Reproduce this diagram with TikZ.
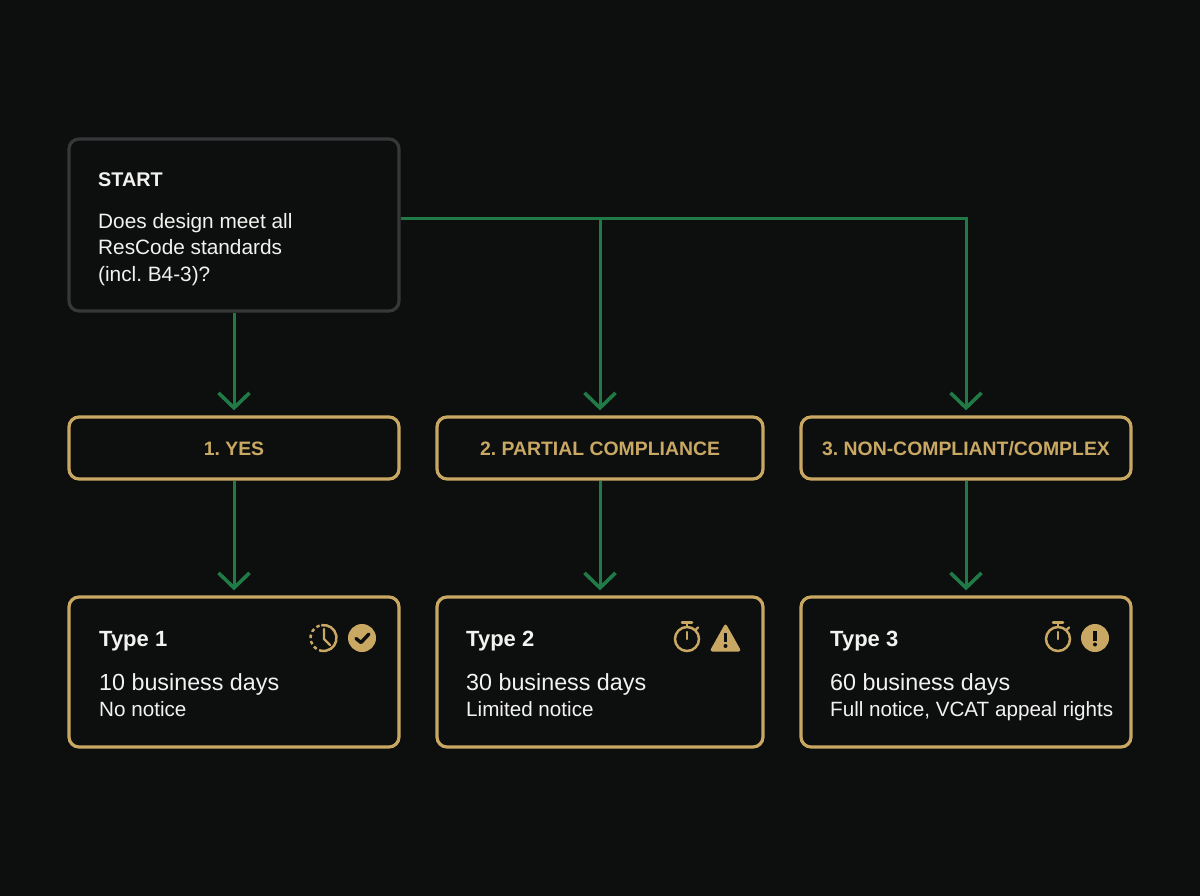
\documentclass[tikz,border=0pt]{standalone}
\usepackage{fontspec}
\setmainfont{Liberation Sans}
\frenchspacing
\usetikzlibrary{arrows.meta,calc}
\definecolor{bgc}{HTML}{0D0E0E}
\definecolor{gold}{HTML}{C9A864}
\definecolor{grn}{HTML}{1F7A45}
\definecolor{edge}{HTML}{363738}
\definecolor{wht}{HTML}{F2F2F0}
\tikzset{
 x=1pt,y=-1pt,
 box/.style={draw=gold,line width=3.2pt,rounded corners=10pt,fill=bgc,minimum height=#1,inner sep=0pt},
 startbox/.style={draw=edge,line width=3.2pt,rounded corners=10pt,fill=bgc,minimum width=330pt,minimum height=172pt,inner sep=0pt},
 conn/.style={draw=grn,line width=3pt,shorten >=5pt,-{Straight Barb[length=15pt,width=31pt,line width=3.6pt]}},
 lab/.style={text=gold,font=\fontsize{19.4}{24}\selectfont\bfseries,inner sep=0pt},
 title/.style={text=wht,font=\fontsize{22}{26}\selectfont\bfseries,inner sep=0pt,anchor=base west},
 big/.style={text=wht,font=\fontsize{23.3}{27}\selectfont,inner sep=0pt,anchor=base west},
 small/.style={text=wht,font=\fontsize{20.65}{24}\selectfont,inner sep=0pt,anchor=base west},
 quest/.style={text=wht,font=\fontsize{20.8}{24}\selectfont,inner sep=0pt,anchor=base west},
 ico/.style={draw=gold,line width=2.5pt},
 hand/.style={draw=gold,line width=2.3pt,line cap=round,line join=round},
}
\begin{document}
\begin{tikzpicture}
\path[use as bounding box,fill=bgc] (0,0) rectangle (1200,896);
\node[startbox] (start) at (234,225) {};
\node[box=62pt,minimum width=330pt] (yes) at (234,448) {};
\node[box=62pt,minimum width=326pt] (partial) at (600,448) {};
\node[box=62pt,minimum width=330pt] (non) at (966,448) {};
\node[box=150pt,minimum width=330pt] (t1) at (234,672) {};
\node[box=150pt,minimum width=326pt] (t2) at (600,672) {};
\node[box=150pt,minimum width=330pt] (t3) at (966,672) {};
\node[lab] (yesl) at (234,449) {1. YES};
\node[lab] (parl) at (600,449) {2. PARTIAL COMPLIANCE};
\node[lab] (nonl) at (966,449) {3. NON-COMPLIANT/COMPLEX};
\node[text=wht,font=\fontsize{19.8}{24}\selectfont\bfseries,inner sep=0pt,anchor=base west] (st) at (98,187) {START};
\node[quest] (q1) at (98,229) {Does design meet all};
\node[quest] (q2) at (98,255) {ResCode standards};
\node[quest] (q3) at (98,282) {(incl. B4-3)?};
\node[title] (n1) at (99,646) {Type 1};
\node[big] (d1) at (99,690) {10 business days};
\node[small] (s1) at (99,716) {No notice};
\node[title] (n2) at (466,646) {Type 2};
\node[big] (d2) at (466,690) {30 business days};
\node[small] (s2) at (466,716) {Limited notice};
\node[title] (n3) at (830,646) {Type 3};
\node[big] (d3) at (830,690) {60 business days};
\node[small] (s3) at (830,716) {Full notice, VCAT appeal rights};
% connectors
\coordinate (bus) at (start.east |- 0,219);
\draw[conn] (start.south) -- (yes.north);
\draw[conn] (bus) -| (partial.north);
\draw[conn] (bus) -| (non.north);
\draw[conn] (yes.south) -- (t1.north);
\draw[conn] (partial.south) -- (t2.north);
\draw[conn] (non.south) -- (t3.north);
% icon 1: clock, solid on the right, dashed on the left
\draw[ico] (323.5,638) ++(-100:13) arc (-100:110:13);
\draw[ico,dash pattern=on 3.5pt off 3pt] (323.5,638) ++(122:13) arc (122:262:13);
\draw[hand] (324,629) -- (324,639) -- (330,645);
\fill[gold] (362,638) circle (14);
\draw[draw=bgc,line width=3.4pt,line cap=round,line join=round] (356,638.5) -- (361,642.5) -- (369,634);
% icon 2: stopwatch and triangle
\draw[ico] (687,639) circle (12);
\draw[ico,line cap=round] (682,622.5) -- (692,622.5);
\draw[ico] (687,622.5) -- (687,627);
\draw[hand] (696,629.5) -- (698,627.5);
\draw[hand] (687,632) -- (687,639);
\fill[gold,rounded corners=3pt] (725.5,623) -- (741.5,651.5) -- (709.5,651.5) -- cycle;
\fill[bgc] (723.9,633) rectangle (727.1,642);
\fill[bgc] (725.5,646) circle (2);
% icon 3: stopwatch and disc
\draw[ico] (1058,639) circle (12);
\draw[ico,line cap=round] (1053,622.5) -- (1063,622.5);
\draw[ico] (1058,622.5) -- (1058,627);
\draw[hand] (1067,629.5) -- (1069,627.5);
\draw[hand] (1058,632) -- (1058,639);
\fill[gold] (1095,638) circle (14);
\fill[bgc] (1093.2,631) rectangle (1096.8,641);
\fill[bgc] (1095,644.5) circle (2);
\end{tikzpicture}
\end{document}
